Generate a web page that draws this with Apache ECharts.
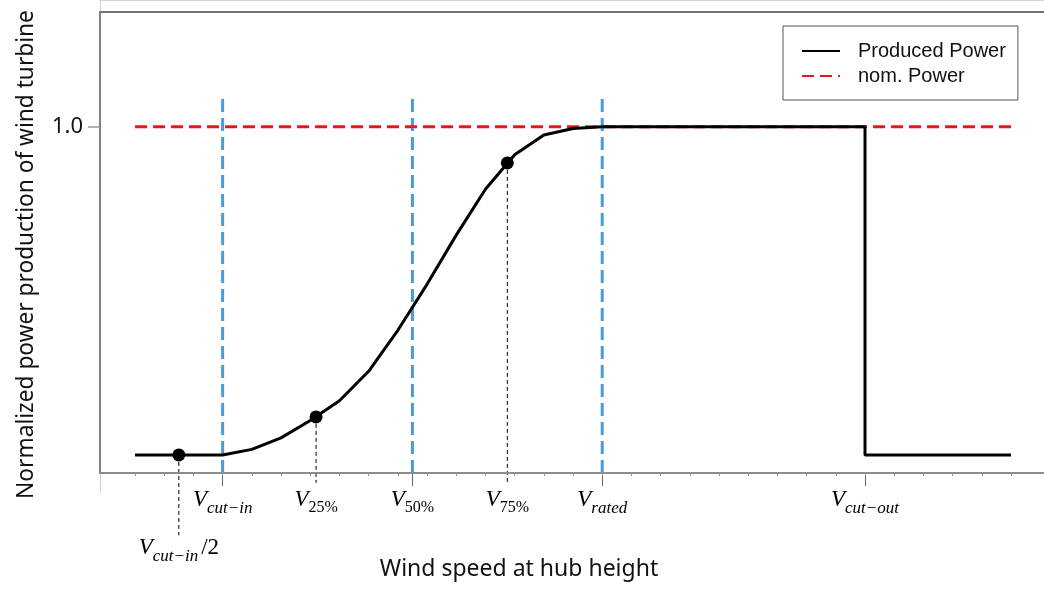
<!DOCTYPE html>
<html>
<head>
<meta charset="utf-8">
<script src="https://cdn.jsdelivr.net/npm/echarts@6/dist/echarts.min.js"></script>
<style>html,body{margin:0;padding:0;background:#fff;}#c{width:1044px;height:589px;}</style>
</head>
<body>
<div id="c"></div>
<script>
// ---- data ----
const curveX = [0, 3, 4, 5, 6, 7, 8, 9, 10, 11, 12, 13, 14, 15, 16, 25, 25, 30];
const curveY = [0, 0, 0.017, 0.052, 0.105, 0.165, 0.255, 0.38, 0.52, 0.67, 0.81, 0.915, 0.975, 0.995, 1, 1, 0, 0];
const nomX = [0, 30];
const nomY = [1, 1];
const markerX = [1.5, 6.2, 12.75];
const markerY = [0, 0.116, 0.89];
const dropBottom = [-0.245, -0.085, -0.085];
const vlineX = [3, 9.5, 16];
const vlineTop = 1.1;
const labelValues = [3, 6.2, 9.5, 12.75, 16, 25];
const labelSubs = ['cut−in', '25%', '50%', '75%', 'rated', 'cut−out'];
const halfLabelValue = [1.5];
const majorTicks = [3, 9.5, 16, 25];
const minorTicks = [0,1,2,3,4,5,6,7,8,9,10,11,12,13,14,15,16,17,18,19,20,21,22,23,24,25,26,27,28,29,30];
const yTicks = [1];

const xMin = -1.2, xMax = 31.13, yMin = -0.055, yMax = 1.35;

const rich = {
  v: {fontFamily: 'Liberation Serif', fontStyle: 'italic', fontSize: 23, color: '#000', verticalAlign: 'top', lineHeight: 26},
  s: {fontFamily: 'Liberation Serif', fontStyle: 'italic', fontSize: 17, color: '#000', verticalAlign: 'top', lineHeight: 17, padding: [12, 0, 0, 0]},
  n: {fontFamily: 'Liberation Serif', fontSize: 16, color: '#000', verticalAlign: 'top', lineHeight: 16, padding: [12, 0, 0, 0]},
  t: {fontFamily: 'Liberation Serif', fontSize: 23, color: '#000', verticalAlign: 'top', lineHeight: 26, padding: [0, 0, 0, 3]}
};

function fmtLabel(val) {
  for (let i = 0; i < labelValues.length; i++) {
    if (Math.abs(labelValues[i] - val) < 1e-6) {
      const sub = labelSubs[i];
      const style = /^[0-9]/.test(sub) ? 'n' : 's';
      return '{v|V}{' + style + '|' + sub + '}';
    }
  }
  return '';
}

const chart = echarts.init(document.getElementById('c'), null, {renderer: 'canvas'});

const blue = '#4a9ae0';
const series = [];
vlineX.forEach((x, i) => {
  series.push({
    type: 'line', xAxisIndex: 0, yAxisIndex: 0, symbol: 'none', silent: true,
    data: [[x, yMin], [x, vlineTop]],
    lineStyle: {color: blue, width: 3, type: [13, 6]}, z: 2
  });
});
markerX.forEach((x, i) => {
  series.push({
    type: 'line', xAxisIndex: 0, yAxisIndex: 0, symbol: 'none', silent: true, clip: false,
    data: [[x, markerY[i]], [x, dropBottom[i]]],
    lineStyle: {color: '#000', width: 1, type: [4, 3]}, z: 2
  });
});
series.push({
  name: 'nom. Power', type: 'line', xAxisIndex: 0, yAxisIndex: 0, symbol: 'none',
  data: nomX.map((x, i) => [x, nomY[i]]),
  lineStyle: {color: '#e31a1c', width: 3, type: [12, 6]}, itemStyle: {color: '#e31a1c'}, z: 3
});
series.push({
  name: 'Produced Power', type: 'line', xAxisIndex: 0, yAxisIndex: 0, symbol: 'none',
  data: curveX.map((x, i) => [x, curveY[i]]),
  lineStyle: {color: '#000', width: 3}, itemStyle: {color: '#000'}, z: 4
});
series.push({
  type: 'scatter', xAxisIndex: 0, yAxisIndex: 0, symbolSize: 13,
  data: markerX.map((x, i) => [x, markerY[i]]),
  itemStyle: {color: '#000', opacity: 1}, z: 5
});

const option = {
  animation: false,
  backgroundColor: '#fff',
  legend: {
    data: ['Produced Power', 'nom. Power'],
    orient: 'vertical',
    left: 783, top: 26,
    padding: [14, 12, 13, 18],
    itemWidth: 38, itemHeight: 14, itemGap: 3,
    borderColor: '#555', borderWidth: 1,
    lineStyle: {width: 2},
    itemStyle: {opacity: 0},
    textStyle: {fontFamily: 'Liberation Sans', fontSize: 20, color: '#111', lineHeight: 22, padding: [0, 0, 0, 13]}
  },
  grid: [
    {left: 100, right: 0, top: 12, bottom: 116},
    {left: 100, right: 0, top: 12, bottom: 116},
    {left: 100, right: 0, top: 0, bottom: 96}
  ],
  xAxis: [
    {
      gridIndex: 0, type: 'value', min: xMin, max: xMax, position: 'bottom',
      axisLine: {show: true, onZero: false, lineStyle: {color: '#8c8c8c', width: 2}},
      axisTick: {show: true, customValues: minorTicks, length: 3, lineStyle: {color: '#999', width: 1}},
      axisLabel: {show: true, customValues: labelValues, margin: 15, formatter: fmtLabel, rich: rich},
      splitLine: {show: false},
      name: 'Wind speed at hub height', nameLocation: 'middle', nameGap: 85,
      nameTextStyle: {fontFamily: 'Noto Sans', fontSize: 23, color: '#111', padding: [0, 106, 0, 0]},
      z: 3
    },
    {
      gridIndex: 0, type: 'value', min: xMin, max: xMax, position: 'top',
      axisLine: {show: true, onZero: false, lineStyle: {color: '#444', width: 1.5}},
      axisTick: {show: false}, axisLabel: {show: false}, splitLine: {show: false}
    },
    {
      gridIndex: 1, type: 'value', min: xMin, max: xMax, position: 'bottom',
      axisLine: {show: false, onZero: false},
      axisTick: {show: true, customValues: majorTicks, length: 13, lineStyle: {color: '#666', width: 1}},
      axisLabel: {show: true, customValues: halfLabelValue, margin: 63,
        formatter: () => '{v|V}{s|cut−in}{t|/2}', rich: rich},
      splitLine: {show: false}
    },
    {
      gridIndex: 2, type: 'value', min: 0, max: 1, position: 'top',
      axisLine: {show: true, onZero: false, lineStyle: {color: '#d4d4d4', width: 1}},
      axisTick: {show: false}, axisLabel: {show: false}, splitLine: {show: false}
    }
  ],
  yAxis: [
    {
      gridIndex: 0, type: 'value', min: yMin, max: yMax, position: 'left',
      axisLine: {show: true, onZero: false, lineStyle: {color: '#7f7f7f', width: 2}},
      axisTick: {show: true, customValues: yTicks, length: 12, lineStyle: {color: '#999', width: 1.5}},
      axisLabel: {show: true, customValues: yTicks, margin: 17, formatter: v => v.toFixed(1),
        fontFamily: 'Noto Sans', fontSize: 22, color: '#111'},
      splitLine: {show: false},
      name: 'Normalized power production of wind turbine', nameLocation: 'middle', nameGap: 62,
      nameTextStyle: {fontFamily: 'Noto Sans', fontSize: 22.7, color: '#111', padding: [0, 24, 0, 0]},
      z: 3
    },
    {
      gridIndex: 1, type: 'value', min: yMin, max: yMax, show: false
    },
    {
      gridIndex: 2, type: 'value', min: 0, max: 1, position: 'left',
      axisLine: {show: true, onZero: false, lineStyle: {color: '#d4d4d4', width: 1}},
      axisTick: {show: false}, axisLabel: {show: false}, splitLine: {show: false}
    }
  ],
  series: series
};
chart.setOption(option);
</script>
</body>
</html>
